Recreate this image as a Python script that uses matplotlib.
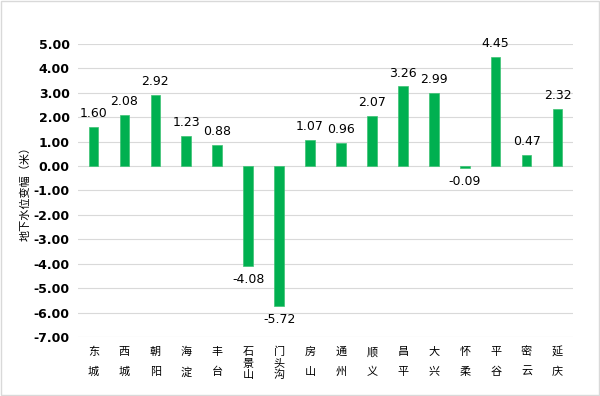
import matplotlib.pyplot as plt
from matplotlib.patches import Rectangle

plt.rcParams['font.family'] = ['Noto Sans CJK SC', 'DejaVu Sans']

districts = ['东城', '西城', '朝阳', '海淀', '丰台', '石景山', '门头沟', '房山',
             '通州', '顺义', '昌平', '大兴', '怀柔', '平谷', '密云', '延庆']
changes = [1.60, 2.08, 2.92, 1.23, 0.88, -4.08, -5.72, 1.07,
           0.96, 2.07, 3.26, 2.99, -0.09, 4.45, 0.47, 2.32]
yticks = [5, 4, 3, 2, 1, 0, -1, -2, -3, -4, -5, -6, -7]

fig = plt.figure(figsize=(6, 3.96), dpi=100)
ax = fig.add_axes([0.13, 0.149, 0.825, 0.740])

x = list(range(len(districts)))
ax.bar(x, changes, width=0.31, color='#00B050', edgecolor='#3cc273', linewidth=0.5, zorder=3)

for xi, v in zip(x, changes):
    if v >= 0:
        ax.annotate(f'{v:.2f}', (xi, v), xytext=(0, 5), textcoords='offset points',
                    ha='center', va='bottom', fontsize=9, family='DejaVu Sans')
    else:
        ax.annotate(f'{v:.2f}', (xi, v), xytext=(0, -5), textcoords='offset points',
                    ha='center', va='top', fontsize=9, family='DejaVu Sans')

# category names written vertically, one character under the other;
# two-char names are spread over the same height as three-char ones
for xi, d in zip(x, districts):
    step = 14.4 if len(d) == 2 else 8.3
    for k, ch in enumerate(d):
        ax.annotate(ch, (xi, 0), xycoords=('data', 'axes fraction'),
                    xytext=(0, -10.8 - k * step), textcoords='offset points',
                    ha='center', va='center', fontsize=8)

ax.set_ylim(-7, 5)
ax.set_xlim(-0.5, len(districts) - 0.5)
ax.set_yticks(yticks)
ax.set_yticklabels([f'{t:.2f}' for t in yticks], fontweight='bold', fontsize=9,
                   family='DejaVu Sans')
ax.set_xticks(x)
ax.set_xticklabels([])
ax.tick_params(axis='both', length=0)
ax.tick_params(axis='y', pad=6)
ax.grid(axis='y', color='#d9d9d9', linewidth=0.8, zorder=0)
for s in ax.spines.values():
    s.set_visible(False)

ax.set_ylabel('地下水位变幅（米）', fontsize=8, labelpad=2)

fig.patches.append(Rectangle((0.002, 0.002), 0.996, 0.996, transform=fig.transFigure,
                             fill=False, edgecolor='#d9d9d9', linewidth=1))

fig.savefig('out.png', dpi=100)
